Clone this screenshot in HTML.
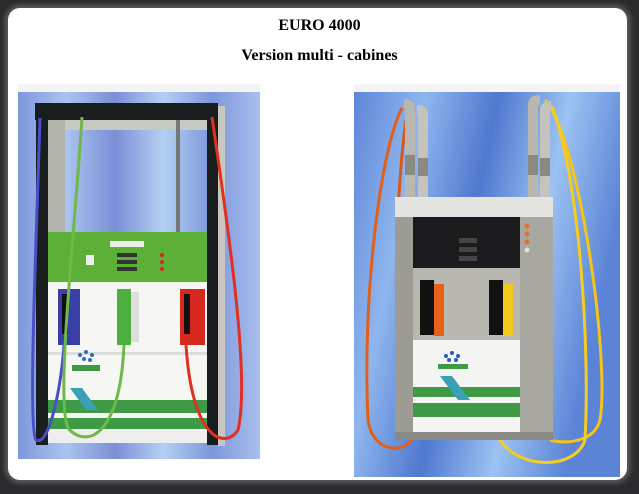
<!DOCTYPE html>
<html><head><meta charset="utf-8"><style>
html,body{margin:0;padding:0;}
body{width:639px;height:494px;background:#2b2b2e;position:relative;overflow:hidden;font-family:"Liberation Serif",serif;}
.panel{position:absolute;left:8px;top:8px;width:619px;height:472px;background:#fff;border-radius:12px;box-shadow:0 0 6px 3px rgba(255,255,255,0.25);}
.t1{position:absolute;left:0;width:639px;text-align:center;font-weight:bold;color:#000;}
svg{position:absolute;}
</style></head><body>
<div class="panel"></div>
<div class="t1" style="top:17px;font-size:16px;">EURO 4000</div>
<div class="t1" style="top:47px;font-size:16px;">Version multi - cabines</div>

<svg width="639" height="494" viewBox="0 0 639 494">
<defs>
<linearGradient id="bg1" x1="0" y1="0" x2="1" y2="0">
<stop offset="0" stop-color="#7f97dc"/><stop offset="0.2" stop-color="#a9c4ee"/>
<stop offset="0.4" stop-color="#7b8fd6"/><stop offset="0.6" stop-color="#b3d0f2"/>
<stop offset="0.8" stop-color="#7d96dc"/><stop offset="1" stop-color="#a8c0ec"/>
</linearGradient>
<linearGradient id="bg2" x1="0" y1="0" x2="1" y2="0.3">
<stop offset="0" stop-color="#5e86d8"/><stop offset="0.25" stop-color="#8fb6ee"/>
<stop offset="0.5" stop-color="#4f78cf"/><stop offset="0.75" stop-color="#9cc3f2"/>
<stop offset="1" stop-color="#5b84d6"/>
</linearGradient>
</defs>
<rect x="18" y="84" width="242" height="8" fill="#f4f4f4"/>
<rect x="18" y="92" width="242" height="367" fill="url(#bg1)"/>
<rect x="354" y="84" width="266" height="8" fill="#f4f4f4"/>
<rect x="354" y="92" width="266" height="385" fill="url(#bg2)"/>

<!-- LEFT PUMP -->
<rect x="218" y="106" width="7" height="340" fill="#c8c8c0"/>
<rect x="48" y="120" width="160" height="10" fill="#c9c9c4"/>
<rect x="48" y="120" width="17" height="112" fill="#b4b4ae"/>
<rect x="176" y="120" width="4" height="112" fill="#777"/>
<rect x="35" y="103" width="183" height="17" fill="#1a1d1e"/>
<rect x="36" y="103" width="12" height="342" fill="#1a1d1e"/>
<rect x="207" y="103" width="11" height="342" fill="#1a1d1e"/>
<rect x="48" y="232" width="159" height="50" fill="#5cb038"/>
<rect x="110" y="241" width="34" height="6" fill="#eee"/>
<rect x="117" y="253" width="20" height="4" fill="#333"/><rect x="117" y="260" width="20" height="4" fill="#333"/><rect x="117" y="267" width="20" height="4" fill="#333"/>
<circle cx="162" cy="255" r="2" fill="#d22"/><circle cx="162" cy="262" r="2" fill="#d22"/><circle cx="162" cy="269" r="2" fill="#d22"/>
<rect x="86" y="255" width="8" height="10" fill="#eee"/>
<rect x="48" y="282" width="159" height="150" fill="#f6f6f3"/>
<rect x="48" y="352" width="159" height="3" fill="#ddd"/>
<rect x="48" y="400" width="159" height="13" fill="#3e9a44"/>
<rect x="48" y="418" width="159" height="11" fill="#3e9a44"/>
<rect x="48" y="429" width="159" height="14" fill="#eee"/>
<polygon points="70,388 82,388 98,410 86,410" fill="#3aa0b5"/>
<rect x="72" y="365" width="28" height="6" fill="#3e9a44"/>
<circle cx="80" cy="355" r="2" fill="#2a70c0"/><circle cx="86" cy="352" r="2" fill="#2a70c0"/><circle cx="92" cy="355" r="2" fill="#2a70c0"/><circle cx="84" cy="359" r="2" fill="#2a70c0"/><circle cx="90" cy="360" r="2" fill="#2a70c0"/>
<rect x="58" y="289" width="22" height="56" fill="#3a3fa8"/><rect x="62" y="294" width="6" height="40" fill="#111"/>
<rect x="117" y="289" width="14" height="56" fill="#4caf3e"/><rect x="131" y="292" width="8" height="50" fill="#ddd"/>
<rect x="180" y="289" width="25" height="56" fill="#d8271e"/><rect x="184" y="294" width="6" height="40" fill="#111"/>
<g fill="none" stroke-width="3">
<path d="M40,118 C36,250 28,430 36,440 C50,448 62,380 64,345" stroke="#4a4fc8"/>
<path d="M82,117 C76,220 55,400 68,428 C85,448 120,440 124,345" stroke="#6fb84a"/>
<path d="M212,117 C230,240 250,380 238,430 C225,450 192,440 186,345" stroke="#e03020"/>
</g>

<!-- RIGHT PUMP -->
<g fill="none" stroke-width="3">
<path d="M402,108 C380,150 362,300 368,420 C372,450 400,455 412,440 C420,400 418,370 420,340" stroke="#e0601a"/>
<path d="M406,120 C395,200 390,360 410,395" stroke="#d8581a"/>
<path d="M545,100 C580,140 610,360 600,420 C595,440 570,445 550,440" stroke="#f4c41a"/>
<path d="M552,106 C580,180 590,350 585,440 C575,470 520,470 500,440 C490,410 486,370 488,340" stroke="#f7cc20"/>
</g>
<path d="M410,197 V108 Q410,104 404,104" stroke="#b8b8b0" stroke-width="10" fill="none"/>
<path d="M423,197 V114 Q423,110 417,110" stroke="#c4c4bc" stroke-width="10" fill="none"/>
<path d="M533,197 V104 Q533,100 540,100" stroke="#b8b8b0" stroke-width="10" fill="none"/>
<path d="M545,197 V110 Q545,106 551,106" stroke="#c4c4bc" stroke-width="10" fill="none"/>
<rect x="405" y="155" width="10" height="20" fill="#8a8a80"/><rect x="418" y="158" width="10" height="18" fill="#8a8a80"/>
<rect x="528" y="155" width="10" height="20" fill="#8a8a80"/><rect x="540" y="158" width="10" height="18" fill="#8a8a80"/>
<rect x="395" y="197" width="158" height="20" fill="#e4e4e0"/>
<rect x="395" y="217" width="18" height="223" fill="#9c9c94"/>
<rect x="520" y="217" width="33" height="223" fill="#a8a8a0"/>
<rect x="413" y="217" width="107" height="51" fill="#1b1b1d"/>
<rect x="459" y="238" width="18" height="5" fill="#444"/><rect x="459" y="247" width="18" height="5" fill="#444"/><rect x="459" y="256" width="18" height="5" fill="#444"/>
<circle cx="527" cy="226" r="2.5" fill="#e07030"/><circle cx="527" cy="234" r="2.5" fill="#e07030"/><circle cx="527" cy="242" r="2.5" fill="#e07030"/><circle cx="527" cy="250" r="2.5" fill="#ddd"/>
<rect x="413" y="268" width="107" height="72" fill="#b9b8b0"/>
<rect x="420" y="280" width="14" height="55" fill="#111"/><rect x="434" y="284" width="10" height="52" fill="#e8601a"/>
<rect x="489" y="280" width="14" height="55" fill="#111"/><rect x="503" y="284" width="10" height="52" fill="#f2c81e"/>
<rect x="413" y="340" width="107" height="92" fill="#f4f4f2"/>
<rect x="413" y="387" width="107" height="10" fill="#3e9a44"/>
<rect x="413" y="403" width="107" height="14" fill="#3e9a44"/>
<polygon points="440,376 452,376 470,400 458,400" fill="#3aa0b5"/>
<rect x="438" y="364" width="30" height="5" fill="#3e9a44"/>
<circle cx="446" cy="356" r="2" fill="#2a5cc0"/><circle cx="452" cy="353" r="2" fill="#2a5cc0"/><circle cx="458" cy="356" r="2" fill="#2a5cc0"/><circle cx="449" cy="360" r="2" fill="#2a5cc0"/><circle cx="456" cy="360" r="2" fill="#2a5cc0"/>
<rect x="395" y="432" width="158" height="8" fill="#8a8a84"/>
</svg>
</body></html>
